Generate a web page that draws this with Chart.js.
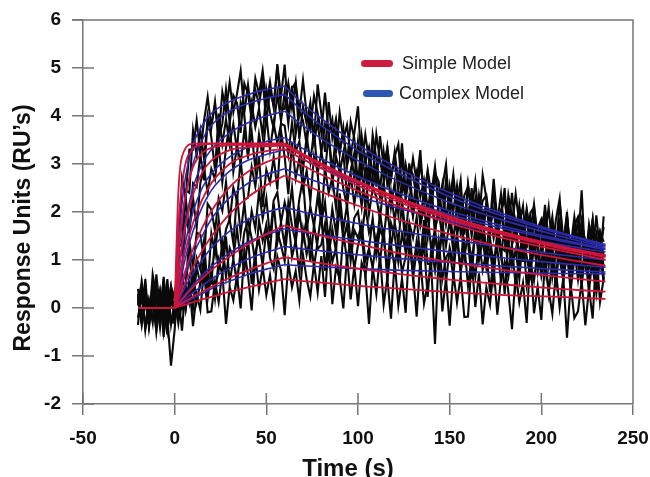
<!DOCTYPE html>
<html><head><meta charset="utf-8">
<script src="https://cdn.jsdelivr.net/npm/chart.js@4.4.1/dist/chart.umd.min.js"></script>
<style>
html,body{margin:0;padding:0;background:#fff;}
#wrap{position:relative;width:650px;height:477px;}
.lg{position:absolute;font-family:"Liberation Sans",Arial,sans-serif;font-size:18px;color:#222;line-height:20px;white-space:nowrap;}
.sw{position:absolute;height:7px;border-radius:4px;}
</style></head><body>
<div id="wrap">
<canvas id="c" width="650" height="477"></canvas>
<div class="sw" style="left:361px;top:60px;width:32px;background:#cc1d40"></div>
<div class="lg" style="left:402px;top:53px">Simple Model</div>
<div class="sw" style="left:363px;top:90px;width:30px;background:#2d55b2"></div>
<div class="lg" style="left:399px;top:83px">Complex Model</div>
</div>
<script>
// ---- fitted curves (Simple = red, Complex = blue), times in s ----
const fitTimes = [0,2,5,10,15,20,30,40,50,60,70,80,100,120,150,180,210,235];
const baselineTimes = [-20,0];
const baselineValues = [0,0];

const simple1 = [0,2.40,3.26,3.42,3.43,3.43,3.43,3.43,3.43,3.43,3.21,3.01,2.64,2.32,1.91,1.57,1.29,1.10];
const simple2 = [0,1.72,2.83,3.32,3.40,3.42,3.42,3.42,3.42,3.42,3.20,3.00,2.64,2.32,1.90,1.57,1.29,1.09];
const simple3 = [0,1.12,2.15,2.94,3.23,3.34,3.39,3.40,3.40,3.40,3.19,2.99,2.62,2.30,1.89,1.56,1.28,1.09];
const simple4 = [0,0.72,1.52,2.36,2.82,3.07,3.29,3.35,3.37,3.38,3.17,2.97,2.61,2.29,1.88,1.55,1.27,1.08];
const simple5 = [0,0.47,1.05,1.77,2.26,2.60,3.00,3.18,3.27,3.31,3.10,2.91,2.55,2.24,1.84,1.52,1.25,1.06];
const simple6 = [0,0.29,0.68,1.23,1.67,2.02,2.52,2.84,3.04,3.17,2.97,2.78,2.44,2.15,1.77,1.45,1.20,1.01];
const simple7 = [0,0.19,0.46,0.85,1.19,1.49,1.96,2.31,2.56,2.76,2.59,2.42,2.13,1.87,1.54,1.26,1.04,0.88];
const simple8 = [0,0.09,0.22,0.43,0.62,0.79,1.08,1.33,1.54,1.72,1.61,1.51,1.33,1.16,0.96,0.79,0.65,0.55];
const simple9 = [0,0.05,0.12,0.24,0.34,0.44,0.63,0.79,0.93,1.06,0.99,0.93,0.82,0.72,0.59,0.49,0.40,0.34];
const simple10 = [0,0.03,0.06,0.12,0.18,0.23,0.34,0.43,0.52,0.60,0.56,0.53,0.46,0.41,0.33,0.27,0.23,0.19];

const complex1 = [0,1.3,2.5,3.4,3.8,4.05,4.3,4.45,4.55,4.62,4.25,3.95,3.4,2.95,2.4,1.95,1.58,1.32];
const complex2 = [0,1.0,2.1,3.0,3.5,3.8,4.1,4.26,4.37,4.45,4.1,3.8,3.28,2.85,2.32,1.9,1.55,1.3];
const complex3 = [0,0.7,1.6,2.5,3.0,3.3,3.65,3.86,4.0,4.1,3.8,3.53,3.07,2.68,2.2,1.82,1.5,1.27];
const complex4 = [0,0.5,1.2,2.0,2.5,2.8,3.15,3.35,3.47,3.55,3.32,3.11,2.74,2.42,2.02,1.7,1.43,1.24];
const complex5 = [0,0.35,0.9,1.6,2.1,2.45,2.85,3.08,3.2,3.3,3.1,2.92,2.6,2.31,1.95,1.65,1.4,1.22];
const complex6 = [0,0.25,0.6,1.1,1.5,1.85,2.3,2.6,2.78,2.9,2.74,2.6,2.33,2.1,1.8,1.54,1.32,1.17];
const complex7 = [0,0.15,0.38,0.72,1.0,1.25,1.6,1.84,1.99,2.1,2.0,1.92,1.76,1.62,1.43,1.26,1.11,1.0];
const complex8 = [0,0.1,0.25,0.48,0.68,0.86,1.15,1.37,1.53,1.65,1.58,1.52,1.41,1.31,1.17,1.04,0.93,0.85];
const complex9 = [0,0.06,0.16,0.32,0.46,0.6,0.83,1.02,1.16,1.28,1.23,1.19,1.11,1.04,0.95,0.87,0.8,0.75];
const complex10 = [0,0.04,0.1,0.2,0.3,0.4,0.56,0.7,0.81,0.9,0.88,0.86,0.82,0.79,0.76,0.74,0.72,0.71];

// ---- measured (noisy) sensorgrams ----
const rawTimes = [-20,-18,-16,-14,-12,-10,-8,-6,-4,-2,
0,2,4,6,8,10,12,14,16,18,
20,22,24,26,28,30,32,34,36,38,
40,42,44,46,48,50,52,54,56,58,
60,62,64,66,68,70,72,74,76,78,
80,82,84,86,88,90,92,94,96,98,
100,102,104,106,108,110,112,114,116,118,
120,122,124,126,128,130,132,134,136,138,
140,142,144,146,148,150,152,154,156,158,
160,162,164,166,168,170,172,174,176,178,
180,182,184,186,188,190,192,194,196,198,
200,202,204,206,208,210,212,214,216,218,
220,222,224,226,228,230,232,234];

const rawA = [.25,-.3,.4,-.15,.1,-.45,.3,-.2,.5,-.35,
.15,1.05,2.7,2.3,3.3,3.3,3.91,3.22,3.9,4.4,
3.75,4.3,3.55,4.5,4.1,4.7,4.08,4.46,4.94,4.07,
4.65,4.02,4.79,4.46,4.95,4.25,4.71,4.18,5.08,4.41,
5.07,3.99,4.57,4.7,4.07,4.75,4.04,3.73,4.42,4.06,
3.65,4.49,3.63,3.93,3.22,4.07,3.51,3.81,3.16,3.65,
4.2,2.96,3.61,3.07,3.32,2.53,3.58,2.94,3.34,2.7,
3.15,3.41,2.43,2.99,2.55,3.12,2.63,3.29,2.16,2.87,
2.38,2.95,2.21,2.52,2.99,2.0,2.57,2.19,2.66,1.53,
2.55,2.02,2.64,1.81,2.23,2.35,1.77,2.69,1.81,2.38,
1.5,2.08,1.65,2.38,1.75,2.13,1.25,1.98,2.1,1.43,
1.8,1.48,2.1,1.23,1.85,2.28,1.21,1.69,1.27,1.9,
1.33,2.45,.94,1.62,1.1,1.93,1.16,1.69];

const rawA2 = [-.35,.55,.1,-.25,.4,-.15,.3,-.6,.2,-.3,
-.2,1.25,1.35,2.45,2.4,3.7,3.17,3.7,3.11,3.89,
3.85,4.22,3.53,3.84,4.55,3.85,4.43,4.27,3.65,4.68,
4.46,3.93,4.55,4.23,4.75,3.87,4.54,4.21,5.03,4.14,
4.15,4.68,4.16,4.69,3.52,4.2,3.84,4.28,3.52,4.66,
4.05,3.25,4.29,3.54,3.94,3.29,3.64,2.99,3.88,3.53,
2.53,3.59,3.05,3.35,2.71,3.62,3.07,2.68,3.34,2.69,
3.25,2.61,3.43,2.44,2.96,2.77,2.29,3.05,2.37,2.83,
2.2,2.81,2.63,1.84,2.66,2.22,2.79,2.01,2.39,1.76,
2.58,1.9,2.27,1.74,2.77,2.29,1.61,2.43,1.75,2.03,
2.25,1.68,2.4,1.53,2.01,1.28,2.06,1.59,2.16,1.44,
1.32,2.15,1.42,1.9,1.13,1.65,1.38,1.91,1.19,1.72,
1.9,1.48,.91,1.74,1.27,1.55,.93,1.91];

const rawB = [.2,-.35,.25,-.1,.4,-.5,.15,-.2,.6,-.3,
-.3,1.0,1.15,2.3,1.55,2.6,2.52,3.2,2.66,4.0,
3.55,2.88,4.05,3.42,3.93,3.4,3.84,3.29,4.28,4.02,
3.11,4.24,3.77,4.15,3.58,4.55,4.07,3.74,4.47,3.89,
4.5,3.84,4.63,3.62,4.11,3.9,3.4,4.14,3.44,3.88,
3.23,3.83,3.64,2.84,3.65,3.2,3.75,2.96,3.31,2.67,
3.47,2.78,3.14,2.6,3.61,3.12,2.44,3.25,2.56,2.82,
3.03,2.45,3.17,2.28,2.75,2.02,2.79,2.31,2.67,2.09,
2.01,2.83,2.1,2.57,1.78,2.3,2.02,2.55,1.82,2.35,
2.52,2.1,1.52,2.35,1.87,2.15,1.52,2.5,1.62,2.0,
1.47,2.35,1.88,1.51,2.14,1.57,2.0,1.08,1.86,1.34,
1.41,1.84,1.17,1.7,1.23,2.2,1.43,1.76,1.0,1.63,
1.46,1.74,.97,1.21,1.84,1.07,1.6,1.38];

const rawC = [.3,-.2,.45,-.35,.1,.25,-.3,.65,-.2,-1.2,
-.45,.65,.7,1.85,1.6,2.3,1.67,2.6,2.93,2.4,
2.9,2.68,3.4,2.62,3.34,3.85,2.84,3.38,3.02,3.71,
3.2,3.67,2.89,3.62,3.14,4.02,3.29,3.86,3.43,3.84,
3.8,3.2,3.86,3.26,3.47,2.87,3.58,3.04,3.69,2.8,
3.26,2.82,3.63,2.59,3.16,2.82,3.23,2.35,2.86,3.23,
2.44,2.91,2.08,2.94,2.46,2.98,2.3,2.62,3.03,2.1,
2.62,1.94,2.67,2.29,3.01,1.98,2.41,1.83,2.45,1.98,
2.6,1.58,2.2,2.37,1.8,2.52,1.85,1.58,2.31,1.99,
1.62,2.5,1.68,2.01,1.34,2.22,1.7,2.03,1.41,1.92,
2.5,1.28,1.96,1.45,1.73,.96,2.04,1.43,1.86,1.24,
1.72,2.0,1.04,1.62,1.2,1.78,1.32,2.0,.88,1.62,
1.15,1.74,1.02,1.36,1.84,.88,1.46,1.1];

const rawD = [-.2,.25,-.4,.15,-.3,.7,-.05,.3,-.45,.2,
.05,.6,.07,.53,1.4,.85,1.57,1.53,1.02,2.17,
2.05,1.6,2.29,2.03,2.62,1.8,2.51,2.23,3.09,2.25,
2.3,2.94,2.53,3.16,2.1,2.88,2.61,3.14,2.47,3.69,
3.15,2.37,3.44,2.7,3.12,2.49,2.86,2.23,3.16,2.83,
1.85,2.92,2.4,2.72,2.09,3.01,2.49,2.11,2.78,2.16,
2.73,2.11,2.94,1.96,2.49,2.32,1.84,2.62,1.95,2.42,
1.8,2.43,2.26,1.49,2.32,1.9,2.48,1.71,2.09,1.47,
2.3,1.63,2.01,1.49,2.52,2.05,1.38,2.21,1.55,1.83,
2.06,1.5,2.23,1.36,1.85,1.13,1.91,1.45,1.83,1.26,
1.19,2.03,1.31,1.8,1.03,1.57,1.31,1.84,1.13,1.66,
1.85,1.43,.87,1.71,1.25,1.53,.92,1.91,1.05,1.43,
.92,1.81,1.35,.99,1.63,1.07,1.51,.6];

const rawE = [.2,.5,-.45,.15,-.25,.35,-.1,.6,-.5,.25,
-.2,.55,0,.5,1.14,.32,1.04,.8,1.4,.4,
1.55,1.13,1.85,1.12,1.64,1.85,1.35,2.35,1.55,2.2,
1.39,2.02,1.65,2.43,1.86,2.29,1.46,2.24,2.41,1.78,
2.2,1.88,2.51,1.64,2.27,2.7,1.63,2.12,1.7,2.33,
1.77,2.2,1.39,2.07,1.56,2.39,1.62,2.16,1.34,1.88,
2.01,1.45,2.13,1.57,1.8,1.24,1.98,1.46,2.15,1.28,
1.77,1.36,2.19,1.18,1.77,1.46,1.89,1.03,1.57,1.95,
1.19,1.68,.87,1.76,1.29,1.83,1.17,1.51,1.95,1.04,
1.58,.92,1.65,1.29,2.03,1.02,1.46,.9,1.54,1.07,
1.71,.7,1.34,1.53,.97,1.71,1.05,.79,1.53,1.22,
.86,1.75,.94,1.28,.62,1.51,1.0,1.34,.73,1.27,
1.86,.65,1.34,.83,1.13,.37,1.46,.85];

const rawF = [.4,-.25,.15,-.35,.7,.25,-.4,.45,-.2,.1,
.35,-.1,.75,-.01,.59,-.02,.86,.49,.92,.44,
.51,1.42,.78,1.34,.65,1.25,1.05,1.65,.99,1.58,
1.82,1.45,.94,1.82,1.4,1.73,1.16,2.18,1.36,1.78,
1.3,2.19,1.72,1.36,1.99,1.43,1.87,.96,1.74,1.23,
1.32,1.76,1.1,1.64,1.18,2.16,1.4,1.74,.98,1.62,
1.46,1.75,.99,1.23,1.87,1.11,1.65,1.44,.78,1.77,
1.51,.95,1.54,1.18,1.67,.76,1.4,1.04,1.83,.92,
.91,1.5,1.04,1.63,.52,1.26,.95,1.45,.74,1.93,
1.37,.61,1.7,.99,1.43,.83,1.22,.61,1.55,1.24,
.29,1.38,.87,1.21,.6,1.55,1.04,.68,1.37,.76,
1.36,.75,1.59,.64,1.18,1.02,.57,1.36,.7,1.2,
.59,1.23,1.08,.32,1.17,.76,1.36,.6];

const rawG = [.15,-.25,.6,-.4,.2,-.1,.35,-.5,.05,.45,
-.3,.26,-.47,.49,.11,.72,.13,.53,1.04,.2,
.8,.2,1.0,.69,1.49,.53,1.02,.51,1.2,.78,
1.47,.5,1.18,1.41,.88,1.66,1.04,.81,1.59,1.31,
.98,1.87,1.06,1.4,.74,1.63,1.12,1.46,.85,1.4,
1.99,.78,1.47,.96,1.25,.5,1.59,.98,1.42,.82,
1.31,1.6,.65,1.24,.83,1.43,.97,1.66,.56,1.3,
.84,1.43,.73,1.07,1.56,.61,1.2,.84,1.34,.23,
1.27,.77,1.41,.6,1.05,1.19,.64,1.58,.72,1.32,
.46,1.06,.65,1.4,.79,1.18,.33,1.07,1.22,.56,
.96,.65,1.3,.44,1.09,1.53,.48,.97,.57,1.21,
.66,1.1,.3,.99,.49,1.33,.58,1.13,.37,1.02,
1.01,.46,1.16,.6,.85,.3,1.05,.55];

const rawH = [.05,.35,-.4,-.15,.5,-.25,.3,.1,-.55,.45,
.2,-.32,.3,-.03,.5,-.38,.29,-.04,.78,-.09,
-.07,.55,.12,.74,-.33,.44,.16,.68,-.01,1.21,
.68,-.05,1.07,.38,.85,.27,.69,.1,1.07,.78,
-.15,.94,.43,.77,.16,1.11,.6,.24,.93,.33,
1.08,.23,1.41,.08,.84,.62,-.01,1.1,.18,.88,
.04,.94,.72,-.33,.85,.29,1.12,.07,.62,-.22,
.97,.05,.61,-.1,1.37,.73,-.18,1.0,.09,.5,
.85,-.75,1.12,-.07,.62,-.37,.75,.11,.67,-.19,
-.18,1.01,.02,.72,-.34,.43,.07,.84,-.14,.62,
.9,.34,-.44,.75,.12,.53,-.31,1.09,-.11,.45,
-.25,1.0,.37,-.12,.78,.01,.64,-.62,.49,-.21,
-.07,.56,-.36,.41,-.22,1.18,.12,.61];

const xTickValues = [-50,0,50,100,150,200,250];
const yTickValues = [-2,-1,0,1,2,3,4,5,6];

// ---- build datasets ----
const FONT = '"Liberation Sans", Arial, Helvetica, sans-serif';
const AXIS = '#767676';
const xy = (ts, vs) => ts.map((t, i) => ({x: t, y: vs[i]}));
const PEAK = fitTimes.indexOf(60);

const datasets = [];
[rawA, rawA2, rawB, rawC, rawD, rawE, rawF, rawG, rawH].forEach(r => {
  datasets.push({data: xy(rawTimes, r), borderColor: '#0a0a0a', borderWidth: 2.1, tension: 0, order: 3});
});
function addFit(vals, color, width, order) {
  const assoc = xy(fitTimes.slice(0, PEAK + 1), vals.slice(0, PEAK + 1));
  const dissoc = xy(fitTimes.slice(PEAK), vals.slice(PEAK));
  [assoc, dissoc].forEach(d => datasets.push({data: d, borderColor: color, borderWidth: width, cubicInterpolationMode: 'monotone', order: order}));
}
[complex1, complex2, complex3, complex4, complex5, complex6, complex7, complex8, complex9, complex10]
  .forEach(v => addFit(v, '#2b2bb0', 1.6, 2));
[simple1, simple2, simple3, simple4, simple5, simple6, simple7, simple8, simple9, simple10]
  .forEach(v => addFit(v, '#d0143a', 1.8, 1));
datasets.push({data: xy(baselineTimes, baselineValues), borderColor: '#d0143a', borderWidth: 2, order: 0});

const framePlugin = {
  id: 'frame',
  beforeDatasetsDraw(chart) {
    const {ctx, chartArea: a, scales: {x, y}} = chart;
    ctx.save();
    ctx.strokeStyle = AXIS; ctx.lineWidth = 1.5;
    ctx.beginPath();
    ctx.moveTo(a.left - 11, a.top); ctx.lineTo(a.right, a.top); ctx.lineTo(a.right, a.bottom);
    x.ticks.forEach(t => { const p = x.getPixelForValue(t.value); ctx.moveTo(p, a.bottom); ctx.lineTo(p, a.bottom - 11); });
    y.ticks.forEach(t => { const p = y.getPixelForValue(t.value); ctx.moveTo(a.left, p); ctx.lineTo(a.left + 11, p); });
    ctx.stroke();
    ctx.restore();
  }
};

new Chart(document.getElementById('c'), {
  type: 'line',
  data: {datasets},
  plugins: [framePlugin],
  options: {
    responsive: false, animation: false, devicePixelRatio: 1,
    layout: {padding: {left: 0, right: 17, top: 20, bottom: 0}},
    elements: {point: {radius: 0}},
    plugins: {legend: {display: false}, tooltip: {enabled: false}},
    scales: {
      x: {
        type: 'linear', min: -50, max: 250,
        afterBuildTicks: s => { s.ticks = xTickValues.map(v => ({value: v})); },
        ticks: {color: '#111', font: {family: FONT, size: 19, weight: 'bold'}, padding: 12, maxRotation: 0},
        grid: {drawOnChartArea: false, drawTicks: true, tickLength: 11, color: AXIS, lineWidth: 1.5},
        border: {color: AXIS, width: 1.5},
        title: {display: true, text: 'Time (s)\u00a0\u00a0\u00a0', color: '#111', font: {family: FONT, size: 24, weight: 'bold', lineHeight: 0.6}, padding: {top: 0, bottom: 0}},
        afterFit: s => { s.height = 73; s.paddingLeft = 0; s.paddingRight = 0; }
      },
      y: {
        type: 'linear', min: -2, max: 6,
        afterBuildTicks: s => { s.ticks = yTickValues.map(v => ({value: v})); },
        ticks: {color: '#111', font: {family: FONT, size: 19, weight: 'bold'}, padding: 11},
        grid: {drawOnChartArea: false, drawTicks: true, tickLength: 11, color: AXIS, lineWidth: 1.5},
        border: {color: AXIS, width: 1.5},
        title: {display: true, text: 'Response Units (RU\u2019s)\u00a0\u00a0\u00a0\u00a0\u00a0', color: '#111', font: {family: FONT, size: 23, weight: 'bold'}, padding: {top: 10, bottom: 0}},
        afterFit: s => { s.width = 83; s.paddingTop = 0; s.paddingBottom = 0; }
      }
    }
  }
});
</script>
</body></html>
